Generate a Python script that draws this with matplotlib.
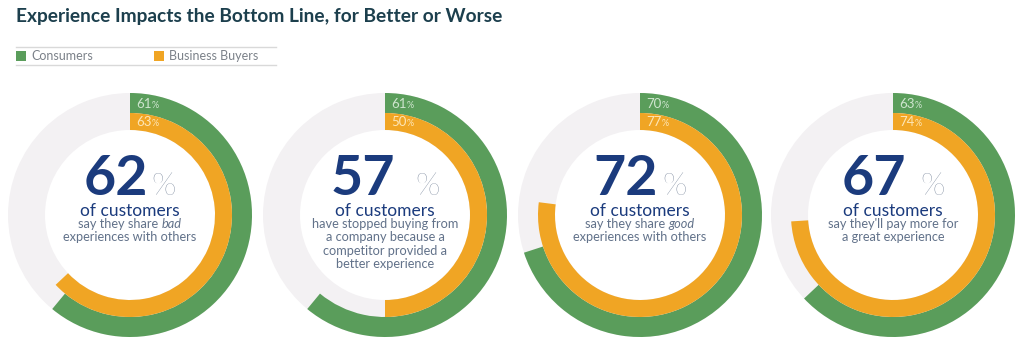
import matplotlib
matplotlib.use("Agg")
import matplotlib.pyplot as plt

# ---------------- data ----------------
series_names = ["Consumers", "Business Buyers"]
consumers = [61, 61, 70, 63]
business_buyers = [63, 50, 77, 74]
headline_values = [62, 57, 72, 67]
subhead = "of customers"
descriptions = [
    [[("say they share ", "normal"), ("bad", "italic")], [("experiences with others", "normal")]],
    [[("have stopped buying from", "normal")], [("a company because a", "normal")],
     [("competitor provided a", "normal")], [("better experience", "normal")]],
    [[("say they share ", "normal"), ("good", "italic")], [("experiences with others", "normal")]],
    [[("say they'll pay more for", "normal")], [("a great experience", "normal")]],
]
title = "Experience Impacts the Bottom Line, for Better or Worse"

# ---------------- style ----------------
GREEN = "#5a9d5b"
ORANGE = "#f0a524"
GREY = "#f3f1f3"
NAVY = "#1b3b7d"
DESC = "#62728a"
TITLE_C = "#1c3f4d"
FONT = "Lato"

W, H = 1024, 348
fig = plt.figure(figsize=(W / 100, H / 100), dpi=100)
fig.patch.set_facecolor("white")
renderer = fig.canvas.get_renderer()

R = 122.0                 # outer radius in px
centers_x = [130, 385, 640, 893]
center_y = 215
half = 125.0
pct_gaps = [3, 20, 5, 14]  # px gap between number and %

def px_w(t):
    bb = t.get_window_extent(renderer=renderer)
    return bb.width

# title
fig.text(16 / W, 1 - 22 / H, title, fontsize=13.8, fontweight="bold", color=TITLE_C,
         family=FONT, va="baseline", ha="left")

# legend lines and entries
lax = fig.add_axes([0, 0, 1, 1], zorder=-1)
lax.set_xlim(0, W)
lax.set_ylim(H, 0)
lax.axis("off")
lax.plot([16, 276], [47, 47], color="#d9d9d9", lw=1)
lax.plot([16, 276], [65, 65], color="#d9d9d9", lw=1)
for name, col, x0 in zip(series_names, [GREEN, ORANGE], [17, 155]):
    lax.scatter([x0 + 4], [56], marker="s", s=50, color=col, linewidths=0)
    lax.text(x0 + 14, 56, name, fontsize=9, color="#7b8189", family=FONT,
             va="center", ha="left")

for i in range(4):
    cx = centers_x[i]
    ax = fig.add_axes([(cx - half) / W, (H - center_y - half) / H, 2 * half / W, 2 * half / H])
    ax.set_xlim(-half / R, half / R)
    ax.set_ylim(-half / R, half / R)
    ax.set_aspect("equal")
    ax.axis("off")
    # background ring
    ax.pie([1], colors=[GREY], radius=1.0, startangle=90,
           wedgeprops=dict(width=1 - 85 / R, linewidth=0))
    c = consumers[i]
    b = business_buyers[i]
    ax.pie([c, 100 - c], colors=[GREEN, "none"], radius=1.0, startangle=90, counterclock=False,
           wedgeprops=dict(width=20 / R, linewidth=0))
    ax.pie([b, 100 - b], colors=[ORANGE, "none"], radius=102 / R, startangle=90, counterclock=False,
           wedgeprops=dict(width=17 / R, linewidth=0))
    ax.set_xlim(-half / R, half / R)
    ax.set_ylim(-half / R, half / R)

    # ring labels
    for val, rr, col in [(c, 111, "#cfe5cf"), (b, 93, "#fde6b6")]:
        t = ax.text(6 / R, rr / R, f"{val}", fontsize=9.5, color=col, family=FONT,
                    va="center", ha="left")
        wv = px_w(t)
        ax.text((6 + wv + 0.5) / R, (rr - 1) / R, "%", fontsize=6.5, color=col, family=FONT,
                va="center", ha="left")

    # headline number
    yb = 20 / R
    t1 = ax.text(0, yb, f"{headline_values[i]}", fontsize=40, fontweight="bold", color=NAVY,
                 family=FONT, va="baseline", ha="left")
    t2 = ax.text(0, yb, "%", fontsize=23, fontweight="light", color=DESC,
                 family=FONT, va="baseline", ha="left")
    w1, w2 = px_w(t1), px_w(t2)
    total = w1 + pct_gaps[i] + w2
    x0 = -total / 2
    t1.set_x(x0 / R)
    t2.set_x((x0 + w1 + pct_gaps[i]) / R)

    ax.text(0, -1 / R, subhead, fontsize=12.5, color=NAVY, family=FONT,
            va="baseline", ha="center")

    # description lines
    for li, segs in enumerate(descriptions[i]):
        ybl = -(13 + 13.3 * li) / R
        texts = []
        for s, style in segs:
            tt = ax.text(0, ybl, s.rstrip(), fontsize=9.2, color=DESC, family=FONT,
                         style=style, va="baseline", ha="left")
            texts.append((tt, s.endswith(" ")))
        # space width
        tsp = ax.text(0, 0, "a a", fontsize=9.2, family=FONT)
        tns = ax.text(0, 0, "aa", fontsize=9.2, family=FONT)
        sp = px_w(tsp) - px_w(tns)
        tsp.remove(); tns.remove()
        widths = [px_w(tt) + (sp if trail else 0) for tt, trail in texts]
        tot = sum(widths)
        xs = -tot / 2
        for (tt, trail), w in zip(texts, widths):
            tt.set_x(xs / R)
            xs += w

fig.savefig("out.png", dpi=100, facecolor="white")
